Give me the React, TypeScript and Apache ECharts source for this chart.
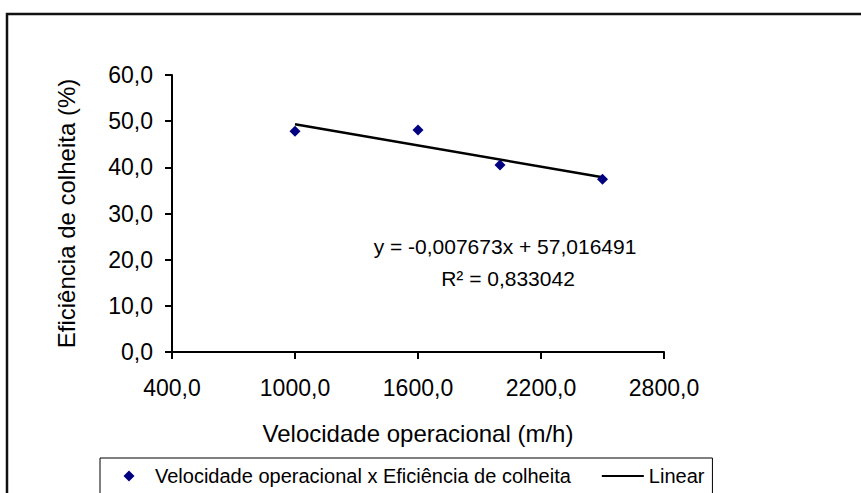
import React, { useEffect, useRef } from "react";
import * as echarts from "echarts";

// ---- data ----
const xValues = [1000, 1600, 2000, 2500];
const yValues = [47.8, 48.1, 40.5, 37.4];
const seriesNames = ["Velocidade operacional x Eficiência de colheita", "Linear"];
const xTicks = [400, 1000, 1600, 2200, 2800];
const yTicks = [0, 10, 20, 30, 40, 50, 60];
const trendSlope = -0.007673;
const trendIntercept = 57.016491;
const equationLines = ["y = -0,007673x + 57,016491", "R² = 0,833042"];
const xTitle = "Velocidade operacional (m/h)";
const yTitle = "Eficiência de colheita (%)";

const FONT = "'Liberation Sans', Arial, sans-serif";
const fmt = (v: number) => v.toFixed(1).replace(".", ",");
// diamond legend icon padded to the full 42x11 icon box so it is not stretched
const DIAMOND_ICON = "path://M0,0L0,0M15.5,0L21,-5.5L26.5,0L21,5.5ZM42,0L42,0";

export default function App() {
  const ref = useRef<HTMLDivElement>(null);

  useEffect(() => {
    if (!ref.current) return;
    const chart = echarts.init(ref.current, null, { renderer: "svg" });

    const scatterData = xValues.map((x, i) => [x, yValues[i]]);
    const xMin = Math.min(...xValues);
    const xMax = Math.max(...xValues);
    const trendData = [
      [xMin, trendSlope * xMin + trendIntercept],
      [xMax, trendSlope * xMax + trendIntercept],
    ];

    chart.setOption({
      animation: false,
      backgroundColor: "#fff",
      textStyle: { fontFamily: FONT },
      grid: { left: 172, top: 75, width: 492, height: 277, containLabel: false },
      xAxis: {
        type: "value",
        min: xTicks[0],
        max: xTicks[xTicks.length - 1],
        interval: xTicks[1] - xTicks[0],
        axisLine: { show: true, onZero: false, lineStyle: { color: "#000", width: 2 } },
        axisTick: { show: true, inside: false, length: 7, lineStyle: { color: "#000", width: 2 } },
        axisLabel: { fontSize: 23, color: "#000", margin: 24, fontFamily: FONT, formatter: (v: number) => fmt(v) },
        splitLine: { show: false },
        name: xTitle,
        nameLocation: "middle",
        nameGap: 69,
        nameTextStyle: { fontSize: 24, color: "#000", fontFamily: FONT },
      },
      yAxis: {
        type: "value",
        min: yTicks[0],
        max: yTicks[yTicks.length - 1],
        interval: yTicks[1] - yTicks[0],
        axisLine: { show: true, onZero: false, lineStyle: { color: "#000", width: 2 } },
        axisTick: { show: true, inside: false, length: 7, lineStyle: { color: "#000", width: 2 } },
        axisLabel: { fontSize: 23, color: "#000", margin: 19, fontFamily: FONT, formatter: (v: number) => fmt(v) },
        splitLine: { show: false },
        name: yTitle,
        nameLocation: "middle",
        nameGap: 94,
        nameTextStyle: { fontSize: 24, color: "#000", fontFamily: FONT },
      },
      legend: {
        left: 100,
        top: 458,
        orient: "horizontal",
        padding: 8,
        itemWidth: 42,
        itemHeight: 11,
        itemGap: 30,
        borderColor: "#000",
        borderWidth: 1,
        backgroundColor: "#fff",
        textStyle: { fontSize: 20, color: "#000", fontFamily: FONT },
        data: [
          { name: seriesNames[0], icon: DIAMOND_ICON, itemStyle: { opacity: 1, color: "#000080" } },
          { name: seriesNames[1], itemStyle: { opacity: 0 } },
        ],
      },
      series: [
        {
          name: seriesNames[0],
          type: "scatter",
          symbol: "diamond",
          symbolSize: 11,
          itemStyle: { color: "#000080", opacity: 1 },
          data: scatterData,
          z: 3,
        },
        {
          name: seriesNames[1],
          type: "line",
          symbol: "none",
          color: "#000",
          lineStyle: { color: "#000", width: 2.5 },
          data: trendData,
          z: 2,
        },
      ],
      graphic: [
        {
          type: "rect",
          silent: true,
          z: -10,
          shape: { x: 7, y: 14, width: 1000, height: 1000 },
          style: { fill: "none", stroke: "#111", lineWidth: 2.5 },
        },
        {
          type: "text",
          x: 505,
          y: 246,
          style: {
            text: equationLines[0],
            fontSize: 21,
            fontFamily: FONT,
            fill: "#000",
            align: "center",
            verticalAlign: "middle",
          },
        },
        {
          type: "text",
          x: 508,
          y: 278,
          style: {
            text: equationLines[1],
            fontSize: 21,
            fontFamily: FONT,
            fill: "#000",
            align: "center",
            verticalAlign: "middle",
          },
        },
      ],
    });

    return () => chart.dispose();
  }, []);

  return (
    <div
      ref={ref}
      style={{ position: "fixed", left: 0, top: 0, width: 861, height: 493, background: "#fff" }}
    />
  );
}
